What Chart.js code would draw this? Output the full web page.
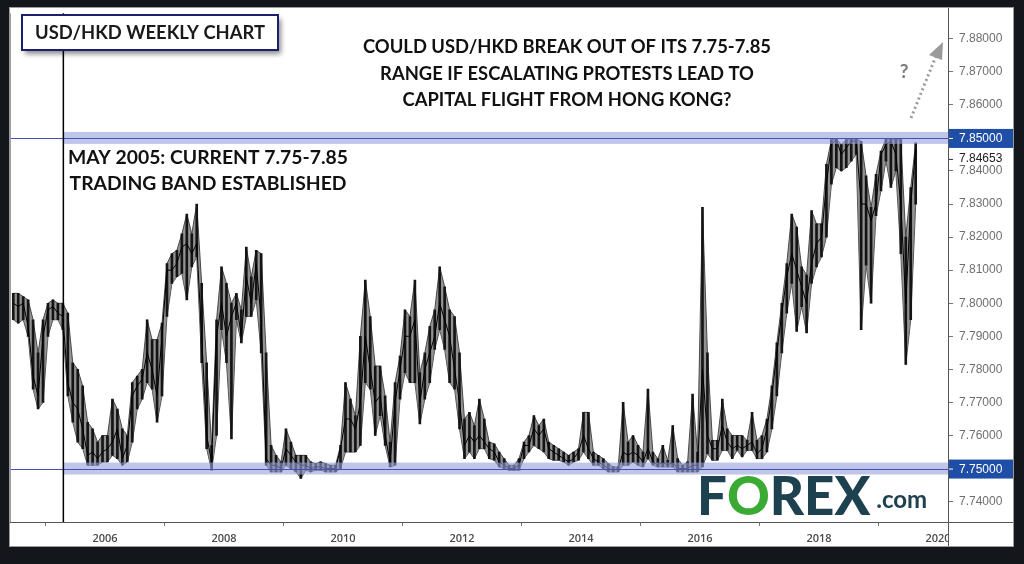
<!DOCTYPE html>
<html><head><meta charset="utf-8">
<script src="https://cdn.jsdelivr.net/npm/chart.js@4.4.1/dist/chart.umd.min.js"></script>
<style>html,body{margin:0;padding:0;background:#13171b;overflow:hidden}canvas{display:block}</style>
</head><body>
<canvas id="c" width="1024" height="564"></canvas>
<script>
// ---- DATA (monthly ranges) ----
const firstYear = 2004, firstMonth = 6; // June 2004
const lows = [
 7.795,7.794,7.795,7.790,7.774,7.768,7.770,
 7.790,7.795,7.795,7.792,7.772,7.764,7.758,7.756,7.751,7.751,7.751,7.752,
 7.752,7.754,7.753,7.751,7.752,7.758,7.768,7.771,7.776,7.774,7.764,7.772,
 7.796,7.806,7.808,7.809,7.801,7.811,7.814,7.782,7.756,7.7495,7.760,7.792,
 7.782,7.759,7.795,7.788,7.796,7.796,7.801,7.785,7.751,7.749,7.749,7.749,
 7.751,7.750,7.749,7.747,7.7495,7.749,7.7495,7.7495,7.749,7.749,7.749,7.750,
 7.755,7.755,7.755,7.757,7.776,7.774,7.760,7.766,7.757,7.7505,7.751,7.771,
 7.779,7.776,7.776,7.7635,7.771,7.776,7.786,7.792,7.786,7.776,7.774,7.762,
 7.753,7.755,7.753,7.756,7.756,7.753,7.7525,7.7505,7.750,7.7495,7.7495,7.7495,
 7.753,7.755,7.757,7.756,7.755,7.753,7.7525,7.7525,7.752,7.751,7.752,7.7525,
 7.755,7.753,7.751,7.751,7.750,7.749,7.749,7.749,7.751,7.751,7.752,7.751,
 7.7505,7.753,7.751,7.7505,7.7505,7.7505,7.7505,7.749,7.749,7.749,7.749,7.749,
 7.7505,7.7545,7.7525,7.7525,7.7555,7.7555,7.753,7.7555,7.7535,7.7555,7.7555,7.753,
 7.753,7.755,7.762,7.772,7.785,7.797,7.806,7.7915,7.799,7.791,7.806,7.811,
 7.814,7.820,7.836,7.841,7.840,7.841,7.843,7.845,7.792,7.8115,7.800,7.8265,
 7.834,7.843,7.835,7.840,7.815,7.7815,7.795,7.830
];
const highs = [
 7.803,7.803,7.802,7.801,7.795,7.785,7.795,
 7.800,7.801,7.800,7.800,7.797,7.782,7.780,7.775,7.764,7.762,7.758,7.760,
 7.760,7.771,7.768,7.762,7.760,7.776,7.778,7.780,7.795,7.789,7.789,7.794,
 7.812,7.815,7.816,7.821,7.827,7.821,7.830,7.806,7.782,7.757,7.795,7.811,
 7.806,7.800,7.803,7.798,7.817,7.808,7.816,7.815,7.785,7.757,7.754,7.752,
 7.762,7.758,7.754,7.754,7.754,7.752,7.7515,7.752,7.7515,7.751,7.751,7.757,
 7.776,7.771,7.766,7.790,7.807,7.796,7.781,7.781,7.772,7.758,7.776,7.784,
 7.798,7.796,7.807,7.779,7.785,7.793,7.798,7.811,7.805,7.798,7.796,7.785,
 7.765,7.767,7.763,7.771,7.765,7.758,7.7575,7.755,7.753,7.751,7.751,7.753,
 7.758,7.760,7.766,7.763,7.765,7.758,7.757,7.756,7.755,7.754,7.755,7.756,
 7.767,7.767,7.755,7.754,7.753,7.7515,7.7505,7.7505,7.770,7.758,7.760,7.757,
 7.755,7.774,7.755,7.753,7.757,7.7525,7.763,7.753,7.751,7.752,7.7725,7.755,
 7.829,7.785,7.7585,7.7585,7.771,7.762,7.760,7.760,7.760,7.7585,7.767,7.7585,
 7.760,7.765,7.775,7.788,7.800,7.812,7.827,7.823,7.811,7.8085,7.828,7.824,
 7.824,7.842,7.8495,7.8497,7.848,7.8495,7.8497,7.8497,7.849,7.8385,7.829,7.839,
 7.846,7.8497,7.8497,7.8495,7.8495,7.820,7.835,7.8485
];
const closes = [
 7.800,7.799,7.800,7.793,7.778,7.772,7.790,
 7.798,7.799,7.797,7.796,7.776,7.770,7.768,7.762,7.754,7.755,7.753,7.755,
 7.756,7.758,7.762,7.753,7.757,7.772,7.775,7.777,7.785,7.780,7.772,7.790,
 7.810,7.810,7.812,7.817,7.818,7.815,7.818,7.790,7.760,7.752,7.790,7.800,
 7.790,7.796,7.800,7.790,7.808,7.800,7.812,7.795,7.753,7.751,7.751,7.750,
 7.756,7.754,7.752,7.751,7.751,7.750,7.7505,7.7505,7.750,7.750,7.750,7.756,
 7.765,7.765,7.762,7.770,7.790,7.780,7.770,7.772,7.760,7.752,7.770,7.780,
 7.790,7.790,7.795,7.770,7.780,7.785,7.790,7.800,7.795,7.790,7.780,7.770,
 7.757,7.760,7.758,7.760,7.758,7.756,7.755,7.752,7.751,7.750,7.750,7.751,
 7.757,7.757,7.762,7.760,7.762,7.756,7.755,7.754,7.753,7.752,7.753,7.755,
 7.760,7.756,7.753,7.752,7.751,7.750,7.7495,7.750,7.755,7.754,7.755,7.754,
 7.752,7.756,7.752,7.751,7.752,7.751,7.752,7.750,7.750,7.750,7.751,7.751,
 7.780,7.760,7.756,7.756,7.763,7.758,7.756,7.757,7.756,7.757,7.758,7.7545,
 7.756,7.762,7.772,7.785,7.797,7.808,7.815,7.810,7.805,7.800,7.812,7.818,
 7.820,7.836,7.848,7.8495,7.845,7.847,7.849,7.849,7.830,7.830,7.825,7.830,
 7.845,7.848,7.849,7.845,7.830,7.800,7.830,7.8465
];
const yearTicks = [2006, 2008, 2010, 2012, 2014, 2016, 2018, 2020];
const priceTicks = [7.74, 7.75, 7.76, 7.77, 7.78, 7.79, 7.80, 7.81, 7.82, 7.83, 7.84, 7.85, 7.86, 7.87, 7.88];
const bandLevels = [7.75, 7.85];
const lastPrice = 7.84653;
const bandStartYear = 2005.3; // May 2005: band established
const titleText = 'USD/HKD WEEKLY CHART';
const headline = ['COULD USD/HKD BREAK OUT OF ITS 7.75-7.85', 'RANGE IF ESCALATING PROTESTS LEAD TO', 'CAPITAL FLIGHT FROM HONG KONG?'];
const note = ['MAY 2005: CURRENT 7.75-7.85', 'TRADING BAND ESTABLISHED'];

// ---- build library data ----
const times = lows.map((_, i) => firstYear + (firstMonth - 1 + i + 0.5) / 12);
const lowData = times.map((t, i) => ({x: t, y: lows[i]}));
const highData = times.map((t, i) => ({x: t, y: highs[i]}));
const closeData = times.map((t, i) => ({x: t, y: closes[i]}));
const rangeData = times.map((t, i) => ({x: t, y: [lows[i], highs[i]]}));

const FONT = 'Lato, "Open Sans", sans-serif';
function fit(ctx, text, weight, targetW, base) {
  ctx.font = weight + ' ' + base + 'px ' + FONT;
  return base * targetW / ctx.measureText(text).width;
}

const deco = {
  id: 'deco',
  beforeDraw(chart) {
    const ctx = chart.ctx;
    ctx.save();
    ctx.fillStyle = '#13171b';
    ctx.fillRect(0, 0, chart.width, chart.height);
    ctx.fillStyle = '#ffffff';
    ctx.fillRect(9, 7, 1005, 540);
    ctx.strokeStyle = '#9a9a9a';
    ctx.lineWidth = 1;
    ctx.strokeRect(9.5, 7.5, 1004, 539);
    ctx.restore();
  },
  afterDatasetsDraw(chart) {
    const ctx = chart.ctx, xs = chart.scales.x, ys = chart.scales.y, a = chart.chartArea;
    ctx.save();
    const bx = xs.getPixelForValue(bandStartYear);
    bandLevels.forEach(v => {
      const yc = ys.getPixelForValue(v);
      ctx.fillStyle = 'rgba(150,160,220,0.6)';
      ctx.fillRect(bx, yc - 6, a.right - bx, 12);
      ctx.strokeStyle = '#4252b8';
      ctx.lineWidth = 1;
      ctx.beginPath();
      ctx.moveTo(a.left, Math.round(yc) + 0.5);
      ctx.lineTo(a.right, Math.round(yc) + 0.5);
      ctx.stroke();
    });
    ctx.strokeStyle = '#000';
    ctx.lineWidth = 1.5;
    ctx.beginPath();
    ctx.moveTo(bx, a.top); ctx.lineTo(bx, a.bottom);
    ctx.stroke();
    ctx.restore();
  },
  afterDraw(chart) {
    const ctx = chart.ctx, ys = chart.scales.y, a = chart.chartArea;
    ctx.save();
    // cover clipped part of last year label
    ctx.fillStyle = '#fff';
    ctx.fillRect(a.right + 0.5, a.bottom + 1, 1013 - a.right - 0.5, 546 - a.bottom - 1);
    // frame lines
    ctx.strokeStyle = '#555';
    ctx.lineWidth = 1;
    ctx.beginPath();
    ctx.moveTo(a.left, a.bottom + 0.5); ctx.lineTo(1013, a.bottom + 0.5);
    ctx.moveTo(a.right + 0.5, 8); ctx.lineTo(a.right + 0.5, 546);
    ctx.stroke();
    ctx.strokeStyle = '#a0a0a0';
    ctx.beginPath();
    ctx.moveTo(a.left + 0.5, a.top); ctx.lineTo(a.left + 0.5, a.bottom);
    ctx.stroke();

    // highlighted band labels on the price axis
    bandLevels.forEach(v => {
      const yc = ys.getPixelForValue(v);
      ctx.fillStyle = '#1f4ea6';
      ctx.fillRect(a.right + 1, yc - 9, 1012 - a.right, 19);
      ctx.strokeStyle = '#fff';
      ctx.beginPath(); ctx.moveTo(a.right + 1, yc + 0.5); ctx.lineTo(a.right + 5, yc + 0.5); ctx.stroke();
      ctx.fillStyle = '#fff';
      ctx.font = '12px "Liberation Sans", Arial, sans-serif';
      ctx.textAlign = 'left'; ctx.textBaseline = 'middle';
      ctx.fillText(v.toFixed(5), a.right + 11, yc + 1);
    });
    // last price label
    const ly = ys.getPixelForValue(lastPrice);
    const lyLab = Math.max(ly, ys.getPixelForValue(7.85) + 21);
    ctx.strokeStyle = '#333';
    ctx.beginPath(); ctx.moveTo(a.right + 1, lyLab + 0.5); ctx.lineTo(a.right + 5, lyLab + 0.5); ctx.stroke();
    ctx.fillStyle = '#222';
    ctx.fillText(lastPrice.toFixed(5), a.right + 11, lyLab);

    // title box
    ctx.save();
    ctx.shadowColor = 'rgba(0,0,0,0.45)';
    ctx.shadowBlur = 5; ctx.shadowOffsetX = 3; ctx.shadowOffsetY = 4;
    ctx.fillStyle = '#fff';
    ctx.fillRect(22, 15, 256, 35);
    ctx.restore();
    ctx.strokeStyle = '#1c1f6e';
    ctx.lineWidth = 2;
    ctx.strokeRect(22, 15, 256, 35);
    ctx.fillStyle = '#1a1a1a';
    ctx.textAlign = 'center'; ctx.textBaseline = 'middle';
    let fs = fit(ctx, titleText, 'bold', 230, 20);
    ctx.font = 'bold ' + fs + 'px ' + FONT;
    ctx.fillText(titleText, 150, 33);

    // headline
    fs = fit(ctx, headline[0], 'bold', 408, 18);
    ctx.font = 'bold ' + fs + 'px ' + FONT;
    ctx.fillStyle = '#111';
    [47, 74, 100].forEach((y, i) => ctx.fillText(headline[i], 567, y));

    // note
    fs = fit(ctx, note[0], 'bold', 280, 18);
    ctx.font = 'bold ' + fs + 'px ' + FONT;
    ctx.fillText(note[0], 208, 158);
    ctx.fillText(note[1], 208, 184);

    // question mark + dotted arrow
    ctx.fillStyle = '#7a7a7a';
    ctx.font = 'bold 19px ' + FONT;
    ctx.fillText('?', 904, 72);
    ctx.strokeStyle = '#9a9a9a';
    ctx.lineWidth = 3;
    ctx.setLineDash([2, 3]);
    ctx.beginPath(); ctx.moveTo(911, 118); ctx.lineTo(936, 56); ctx.stroke();
    ctx.setLineDash([]);
    ctx.fillStyle = '#9a9a9a';
    ctx.beginPath();
    ctx.moveTo(943, 42); ctx.lineTo(929, 55); ctx.lineTo(942, 60); ctx.closePath(); ctx.fill();

    // FOREX.com logo
    ctx.textAlign = 'left'; ctx.textBaseline = 'alphabetic';
    const lf = fit(ctx, 'FOREX', '900', 173, 44);
    ctx.font = '900 ' + lf + 'px ' + FONT;
    let x = 697;
    const parts = [['F', '#1e4150'], ['O', '#3aaa35'], ['REX', '#1e4150']];
    parts.forEach(p => { ctx.fillStyle = p[1]; ctx.fillText(p[0], x, 515); x += ctx.measureText(p[0]).width; });
    ctx.font = 'bold 24px ' + FONT;
    ctx.fillStyle = '#1e4150';
    ctx.fillText('.com', x + 6, 508);
    ctx.restore();
  }
};

new Chart(document.getElementById('c'), {
  type: 'line',
  data: {
    datasets: [
      { type: 'line', data: lowData, borderColor: 'rgba(60,60,60,0.9)', borderWidth: 1, pointRadius: 0, tension: 0, fill: false, order: 4 },
      { type: 'line', data: highData, borderColor: 'rgba(60,60,60,0.9)', borderWidth: 1, pointRadius: 0, tension: 0, fill: '-1', backgroundColor: 'rgba(110,110,110,0.75)', order: 3 },
      { type: 'bar', data: rangeData, backgroundColor: '#141414', borderWidth: 0, barThickness: 2, grouped: false, order: 2 },
      { type: 'line', data: closeData, borderColor: '#000', borderWidth: 1, pointRadius: 0, tension: 0, fill: false, order: 1 }
    ]
  },
  options: {
    responsive: false, animation: false, devicePixelRatio: 1,
    layout: { padding: { left: 10, top: 8, right: 11, bottom: 18 } },
    plugins: { legend: { display: false }, tooltip: { enabled: false } },
    scales: {
      x: {
        type: 'linear', min: 2004.4034, max: 2020.168, offset: false,
        afterBuildTicks: s => { s.ticks = yearTicks.map(v => ({ value: v })); },
        afterFit: s => { s.height = 24; },
        ticks: { callback: v => String(v), color: '#4a4a4a', font: { family: '"Open Sans", sans-serif', size: 11, weight: '600' }, padding: 6, maxRotation: 0, autoSkip: false },
        grid: { drawOnChartArea: false, drawTicks: true, tickLength: 4, color: '#777' },
        border: { display: true, color: '#555' }
      },
      y: {
        position: 'right', min: 7.733835, max: 7.887725,
        afterBuildTicks: s => { s.ticks = priceTicks.map(v => ({ value: v })); },
        afterFit: s => { s.width = 65; },
        ticks: { callback: v => v.toFixed(5), color: '#6e6e6e', font: { family: '"Liberation Sans", Arial, sans-serif', size: 12 }, padding: 6, autoSkip: false },
        grid: { drawOnChartArea: false, drawTicks: true, tickLength: 5, color: '#777' },
        border: { display: true, color: '#555' }
      }
    }
  },
  plugins: [deco]
});
</script>
</body></html>
